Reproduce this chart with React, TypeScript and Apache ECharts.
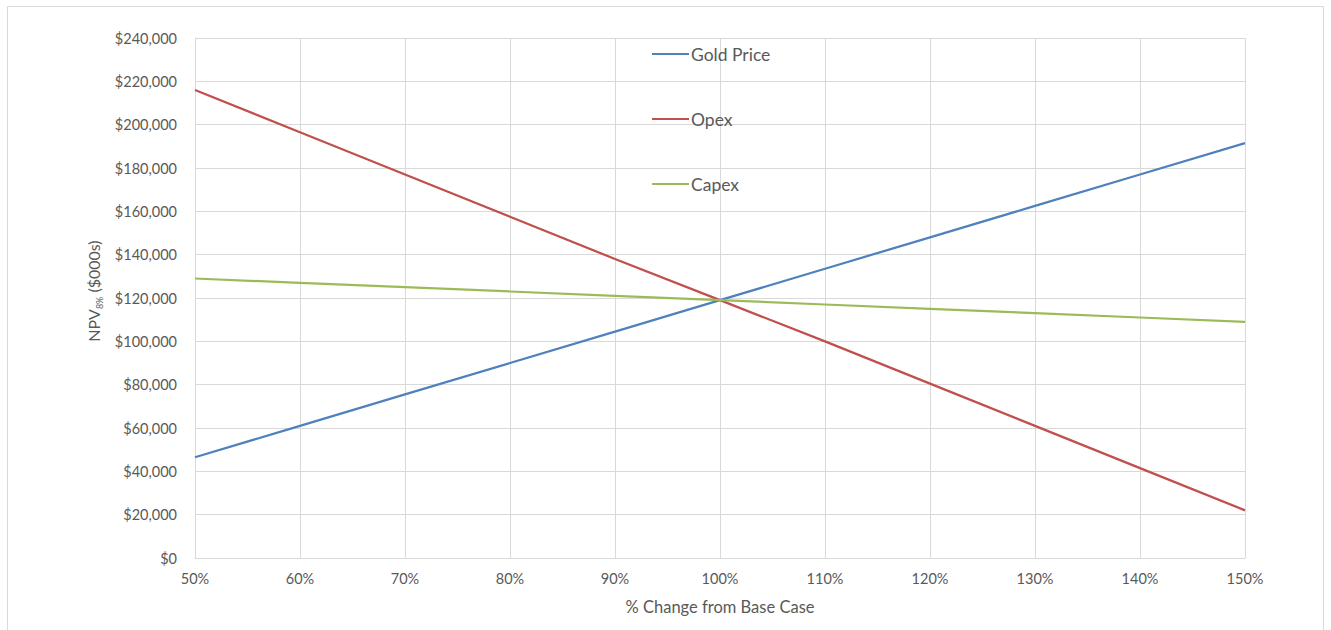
import React, { useEffect, useRef } from "react";
import * as echarts from "echarts";

const categories = ["50%", "60%", "70%", "80%", "90%", "100%", "110%", "120%", "130%", "140%", "150%"];
const goldPrice = [46500, 61000, 75500, 90000, 104500, 119000, 133500, 148000, 162500, 177000, 191500];
const opex = [216000, 196500, 177000, 157500, 138000, 119000, 100000, 80500, 61000, 41500, 22000];
const capex = [129000, 127000, 125000, 123000, 121000, 119000, 117000, 115000, 113000, 111000, 109000];

const FONT = "Lato, 'Noto Sans', sans-serif";
const TXT = "#595959";

export default function App() {
  const ref = useRef<HTMLDivElement>(null);
  useEffect(() => {
    if (!ref.current) return;
    const chart = echarts.init(ref.current, undefined, { renderer: "svg" });
    const fmt = (v: number) => "$" + v.toLocaleString("en-US");
    chart.setOption({
      animation: false,
      backgroundColor: "#ffffff",
      textStyle: { fontFamily: FONT },
      graphic: [
        {
          type: "rect",
          shape: { x: 7.5, y: 6.5, width: 1316, height: 640 },
          style: { fill: "none", stroke: "#d9d9d9", lineWidth: 1 },
          silent: true,
        },
      ],
      grid: { left: 195, right: 86, top: 38, bottom: 72, containLabel: false },
      legend: {
        orient: "vertical",
        left: 647,
        top: 40,
        icon: "rect",
        itemWidth: 37,
        itemHeight: 2,
        itemGap: 47,
        textStyle: { color: TXT, fontSize: 17.5, fontFamily: FONT, padding: [0, 0, 0, -3] },
        data: ["Gold Price", "Opex", "Capex"],
      },
      xAxis: {
        type: "category",
        data: categories,
        boundaryGap: false,
        name: "% Change from Base Case",
        nameLocation: "middle",
        nameGap: 40,
        nameTextStyle: { color: TXT, fontSize: 16.5, fontFamily: FONT },
        axisLine: { show: true, lineStyle: { color: "#d9d9d9", width: 1 } },
        axisTick: { show: false },
        axisLabel: { color: TXT, fontSize: 14.5, margin: 13, fontFamily: FONT },
        splitLine: { show: true, lineStyle: { color: "#d9d9d9", width: 1 } },
      },
      yAxis: {
        type: "value",
        min: 0,
        max: 240000,
        interval: 20000,
        name: "{a|NPV}{b|8%}{a| ($000s)}",
        nameLocation: "middle",
        nameGap: 86,
        nameRotate: 90,
        nameTextStyle: {
          padding: [0, 0, 0, 14],
          rich: {
            a: { color: TXT, fontSize: 16, fontFamily: FONT, lineHeight: 20, verticalAlign: "middle" },
            b: { color: TXT, fontSize: 9, fontFamily: FONT, lineHeight: 20, verticalAlign: "bottom", padding: [7, 0, 0, 0] },
          },
        },
        axisLine: { show: true, lineStyle: { color: "#d9d9d9", width: 1 } },
        axisTick: { show: false },
        axisLabel: { color: TXT, fontSize: 14.5, margin: 18, formatter: fmt, fontFamily: FONT },
        splitLine: { show: true, lineStyle: { color: "#d9d9d9", width: 1 } },
      },
      series: [
        {
          name: "Gold Price",
          type: "line",
          data: goldPrice,
          symbol: "none",
          itemStyle: { color: "#4f81bd" },
          lineStyle: { color: "#4f81bd", width: 2.25 },
        },
        {
          name: "Opex",
          type: "line",
          data: opex,
          symbol: "none",
          itemStyle: { color: "#c0504d" },
          lineStyle: { color: "#c0504d", width: 2.25 },
        },
        {
          name: "Capex",
          type: "line",
          data: capex,
          symbol: "none",
          itemStyle: { color: "#9bbb59" },
          lineStyle: { color: "#9bbb59", width: 2.25 },
        },
      ],
    });
    return () => chart.dispose();
  }, []);
  return (
    <div
      ref={ref}
      style={{ position: "fixed", left: 0, top: 0, width: 1331, height: 630 }}
    />
  );
}
